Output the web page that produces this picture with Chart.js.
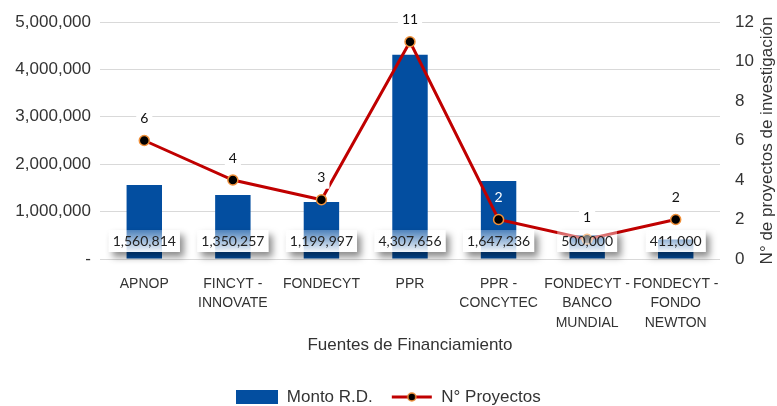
<!DOCTYPE html>
<html>
<head>
<meta charset="utf-8">
<script src="https://cdn.jsdelivr.net/npm/chart.js@4.4.0/dist/chart.umd.min.js"></script>
<style>
  html, body { margin: 0; padding: 0; background: #fff; }
  #wrap { width: 777px; height: 406px; }
</style>
</head>
<body>
<div id="wrap"><canvas id="chart"></canvas></div>
<script>
const categories = [
  ['APNOP'],
  ['FINCYT -', 'INNOVATE'],
  ['FONDECYT'],
  ['PPR'],
  ['PPR -', 'CONCYTEC'],
  ['FONDECYT -', 'BANCO', 'MUNDIAL'],
  ['FONDECYT -', 'FONDO', 'NEWTON']
];
const montoRD = [1560814, 1350257, 1199997, 4307656, 1647236, 500000, 411000];
const nProyectos = [6, 4, 3, 11, 2, 1, 2];
const rightTitle = 'N° de proyectos de investigación';

const BLUE = '#034EA0';
const RED = '#C00000';
const ORANGE = '#F0903A';
const TXT = '#333333';
const FONT = "'Liberation Sans', Arial, sans-serif";

// legend icons
const barIcon = document.createElement('canvas');
barIcon.width = 42; barIcon.height = 14;
(function () {
  const g = barIcon.getContext('2d');
  g.fillStyle = BLUE;
  g.fillRect(0, 0, 42, 14);
})();
const lineIcon = document.createElement('canvas');
lineIcon.width = 42; lineIcon.height = 12;
(function () {
  const g = lineIcon.getContext('2d');
  g.strokeStyle = RED; g.lineWidth = 3;
  g.beginPath(); g.moveTo(1, 6); g.lineTo(41, 6); g.stroke();
  g.beginPath(); g.arc(21, 6, 4, 0, Math.PI * 2);
  g.fillStyle = '#000'; g.fill();
  g.strokeStyle = ORANGE; g.lineWidth = 1.5; g.stroke();
})();

const valueLabels = {
  id: 'valueLabels',
  afterDatasetsDraw(chart) {
    const ctx = chart.ctx;
    const barMeta = chart.getDatasetMeta(0);
    const lineMeta = chart.getDatasetMeta(1);
    ctx.save();
    ctx.font = '14px Lato';
    ctx.textAlign = 'center';
    ctx.textBaseline = 'middle';

    // project counts above the points
    lineMeta.data.forEach((pt, i) => {
      const txt = String(nProyectos[i]);
      const x = pt.x, y = pt.y - 22;
      const bar = barMeta.data[i];
      const onBar = y > bar.y && Math.abs(x - bar.x) < bar.width / 2;
      if (!onBar) {
        const w = ctx.measureText(txt).width + 8;
        ctx.fillStyle = '#fff';
        ctx.fillRect(x - w / 2, y - 11, w, 22);
      }
      ctx.fillStyle = onBar ? '#fff' : '#111';
      ctx.fillText(txt, x, y);
    });

    // amounts near the base of the bars
    const base = chart.scales.y.getPixelForValue(0);
    barMeta.data.forEach((bar, i) => {
      const txt = montoRD[i].toLocaleString('en-US');
      const w = ctx.measureText(txt).width + 8, h = 22;
      const x = bar.x, y = base - 18;
      const bx = x - w / 2, by = y - h / 2;

      ctx.save();
      ctx.beginPath();
      ctx.rect(0, 0, chart.width, chart.height);
      ctx.rect(bx, by, w, h);
      ctx.clip('evenodd');
      ctx.shadowColor = 'rgba(0,0,0,0.45)';
      ctx.shadowBlur = 7;
      ctx.shadowOffsetX = 3000 + 4;
      ctx.shadowOffsetY = 5;
      ctx.fillStyle = '#000';
      ctx.fillRect(bx - 3000, by, w, h);
      ctx.restore();

      const grad = ctx.createLinearGradient(0, by, 0, by + h);
      grad.addColorStop(0, 'rgba(255,255,255,0.3)');
      grad.addColorStop(1, 'rgba(255,255,255,0.95)');
      ctx.fillStyle = grad;
      ctx.fillRect(bx, by, w, h);

      ctx.fillStyle = '#222';
      ctx.fillText(txt, x, y);
    });
    ctx.restore();
  }
};

// right axis title, read bottom to top
const rightAxisTitle = {
  id: 'rightAxisTitle',
  afterDraw(chart) {
    const ctx = chart.ctx;
    const s = chart.scales.y1;
    ctx.save();
    ctx.translate(s.right - 10, (s.top + s.bottom) / 2);
    ctx.rotate(-Math.PI / 2);
    ctx.font = '17px ' + FONT;
    ctx.fillStyle = TXT;
    ctx.textAlign = 'center';
    ctx.textBaseline = 'middle';
    ctx.fillText(rightTitle, 0, 0);
    ctx.restore();
  }
};

new Chart(document.getElementById('chart'), {
  plugins: [valueLabels, rightAxisTitle],
  data: {
    labels: categories,
    datasets: [
      {
        type: 'bar',
        label: 'Monto R.D.',
        data: montoRD,
        backgroundColor: BLUE,
        yAxisID: 'y',
        order: 1,
        barPercentage: 0.4,
        categoryPercentage: 1
      },
      {
        type: 'line',
        label: 'N° Proyectos',
        data: nProyectos,
        borderColor: RED,
        borderWidth: 3,
        tension: 0,
        pointRadius: 5,
        pointBackgroundColor: '#000',
        pointBorderColor: ORANGE,
        pointBorderWidth: 1.5,
        yAxisID: 'y1',
        order: 0
      }
    ]
  },
  options: {
    responsive: true,
    maintainAspectRatio: false,
    animation: false,
    layout: {
      padding: { top: 22, left: 0, right: 0, bottom: -9.5 }
    },
    plugins: {
      tooltip: { enabled: false },
      legend: {
        position: 'bottom',
        labels: {
          usePointStyle: true,
          pointStyleWidth: 42,
          padding: 18,
          color: TXT,
          font: { family: FONT, size: 17 },
          sort: (a, b) => a.datasetIndex - b.datasetIndex,
          generateLabels: function (chart) {
            return Chart.defaults.plugins.legend.labels.generateLabels(chart).map(it => {
              it.pointStyle = it.datasetIndex === 0 ? barIcon : lineIcon;
              return it;
            });
          }
        }
      }
    },
    scales: {
      x: {
        border: { display: false },
        grid: { display: false },
        ticks: {
          autoSkip: false,
          maxRotation: 0,
          padding: 7,
          color: TXT,
          font: { family: FONT, size: 14, lineHeight: 1.4 }
        },
        title: {
          display: true,
          text: 'Fuentes de Financiamiento',
          color: TXT,
          font: { family: FONT, size: 17 },
          padding: { top: 4, bottom: 15 }
        },
        afterFit: function (scale) { scale.height = 111.5; }
      },
      y: {
        position: 'left',
        min: 0,
        max: 5000000,
        border: { display: false },
        grid: { color: '#D9D9D9', drawTicks: false },
        ticks: {
          stepSize: 1000000,
          padding: 9,
          color: TXT,
          font: { family: FONT, size: 17 },
          callback: v => v === 0 ? '-' : v.toLocaleString('en-US')
        },
        afterFit: function (scale) { scale.width = 100; scale.paddingTop = 0; }
      },
      y1: {
        position: 'right',
        min: 0,
        max: 12,
        border: { display: false },
        grid: { display: false, drawTicks: false },
        ticks: {
          stepSize: 2,
          padding: 15,
          color: TXT,
          font: { family: FONT, size: 17 }
        },
        afterFit: function (scale) { scale.width = 57; scale.paddingTop = 0; }
      }
    }
  }
});
</script>
</body>
</html>
